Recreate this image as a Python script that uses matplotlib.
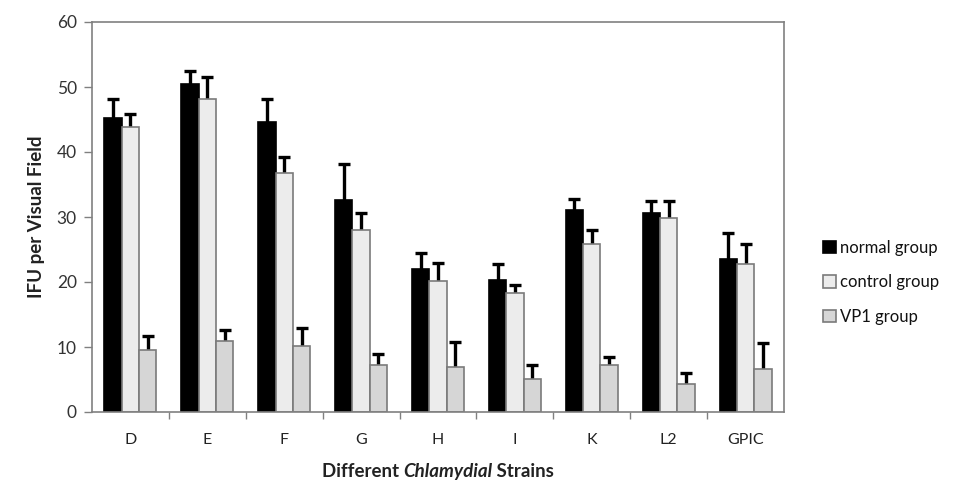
import matplotlib
matplotlib.use("Agg")
import matplotlib.pyplot as plt
import numpy as np

categories = ["D", "E", "F", "G", "H", "I", "K", "L2", "GPIC"]
normal = [45.2, 50.4, 44.6, 32.6, 22.0, 20.3, 31.1, 30.6, 23.5]
normal_err = [2.9, 2.1, 3.5, 5.6, 2.4, 2.4, 1.7, 1.9, 4.0]
control = [43.8, 48.1, 36.7, 28.0, 20.2, 18.3, 25.8, 29.8, 22.8]
control_err = [2.0, 3.4, 2.5, 2.6, 2.8, 1.2, 2.2, 2.7, 3.0]
vp1 = [9.5, 10.9, 10.2, 7.2, 7.0, 5.1, 7.3, 4.3, 6.6]
vp1_err = [2.2, 1.7, 2.8, 1.8, 3.7, 2.2, 1.2, 1.7, 4.0]
series_names = ["normal group", "control group", "VP1 group"]

plt.rcParams['font.family'] = ['Lato', 'DejaVu Sans']
fig = plt.figure(figsize=(9.71, 4.84), dpi=100)
ax = fig.add_axes([92/971, 1-412/484, (784-92)/971, (412-22)/484])

x = np.arange(len(categories))
w = 0.225
colors = ["#000000", "#ececec", "#d6d6d6"]
edges = ["#000000", "#7a7a7a", "#7a7a7a"]
data = [(normal, normal_err), (control, control_err), (vp1, vp1_err)]
handles = []
for i, ((vals, errs), c, e, name) in enumerate(zip(data, colors, edges, series_names)):
    pos = x + (i - 1) * w
    b = ax.bar(pos, vals, width=w, color=c, edgecolor=e, linewidth=1.2, label=name, zorder=2)
    # symmetric error bars drawn behind the bars: only the upper half shows
    ax.errorbar(pos, vals, yerr=errs, fmt='none', ecolor='black',
                elinewidth=2.4, capsize=4, capthick=2.4, zorder=1)
    handles.append(b)

ax.set_xlim(-0.5, len(categories) - 0.5)
ax.set_ylim(0, 60)
ax.set_yticks(np.arange(0, 61, 10))
ax.set_xticks(x)
ax.set_xticklabels(categories)
ax.set_xticks(np.arange(0.5, len(categories) - 0.5, 1), minor=True)
ax.tick_params(axis='x', which='major', length=0, labelsize=11.5, colors='#222222', pad=15)
ax.tick_params(axis='x', which='minor', length=5, width=1, color='#808080', direction='out')
ax.tick_params(axis='y', length=6, width=1, color='#808080', labelsize=12.5, labelcolor='#333333', pad=5)
for s in ax.spines.values():
    s.set_color('#808080')
    s.set_linewidth(1.2)

ax.set_ylabel("IFU per Visual Field", fontsize=13.5, fontweight='bold', color='#222222', labelpad=8)

# x label with italic word
t1 = fig.text(0, 0, "Different ", fontsize=13.5, fontweight='bold', color='#222222')
t2 = fig.text(0, 0, "Chlamydial", fontsize=13.5, fontweight='bold', style='italic', color='#222222')
t3 = fig.text(0, 0, " Strains", fontsize=13.5, fontweight='bold', color='#222222')
fig.canvas.draw()
r = fig.canvas.get_renderer()
ws = [t.get_window_extent(r).width for t in (t1, t2, t3)]
total = sum(ws)
cx = 438
x0 = cx - total / 2
ybase = 484 - 477
for t, wd in zip((t1, t2, t3), ws):
    t.set_position((x0 / 971, ybase / 484))
    x0 += wd

leg = fig.legend(handles=handles, labels=series_names, loc='upper left',
                 bbox_to_anchor=(808/971, 1-225/484), frameon=False, fontsize=12,
                 handlelength=0.75, handleheight=0.75, handletextpad=0.25, labelspacing=1.1)
for t in leg.get_texts():
    t.set_color('#111111')

fig.savefig("out.png", dpi=100)
